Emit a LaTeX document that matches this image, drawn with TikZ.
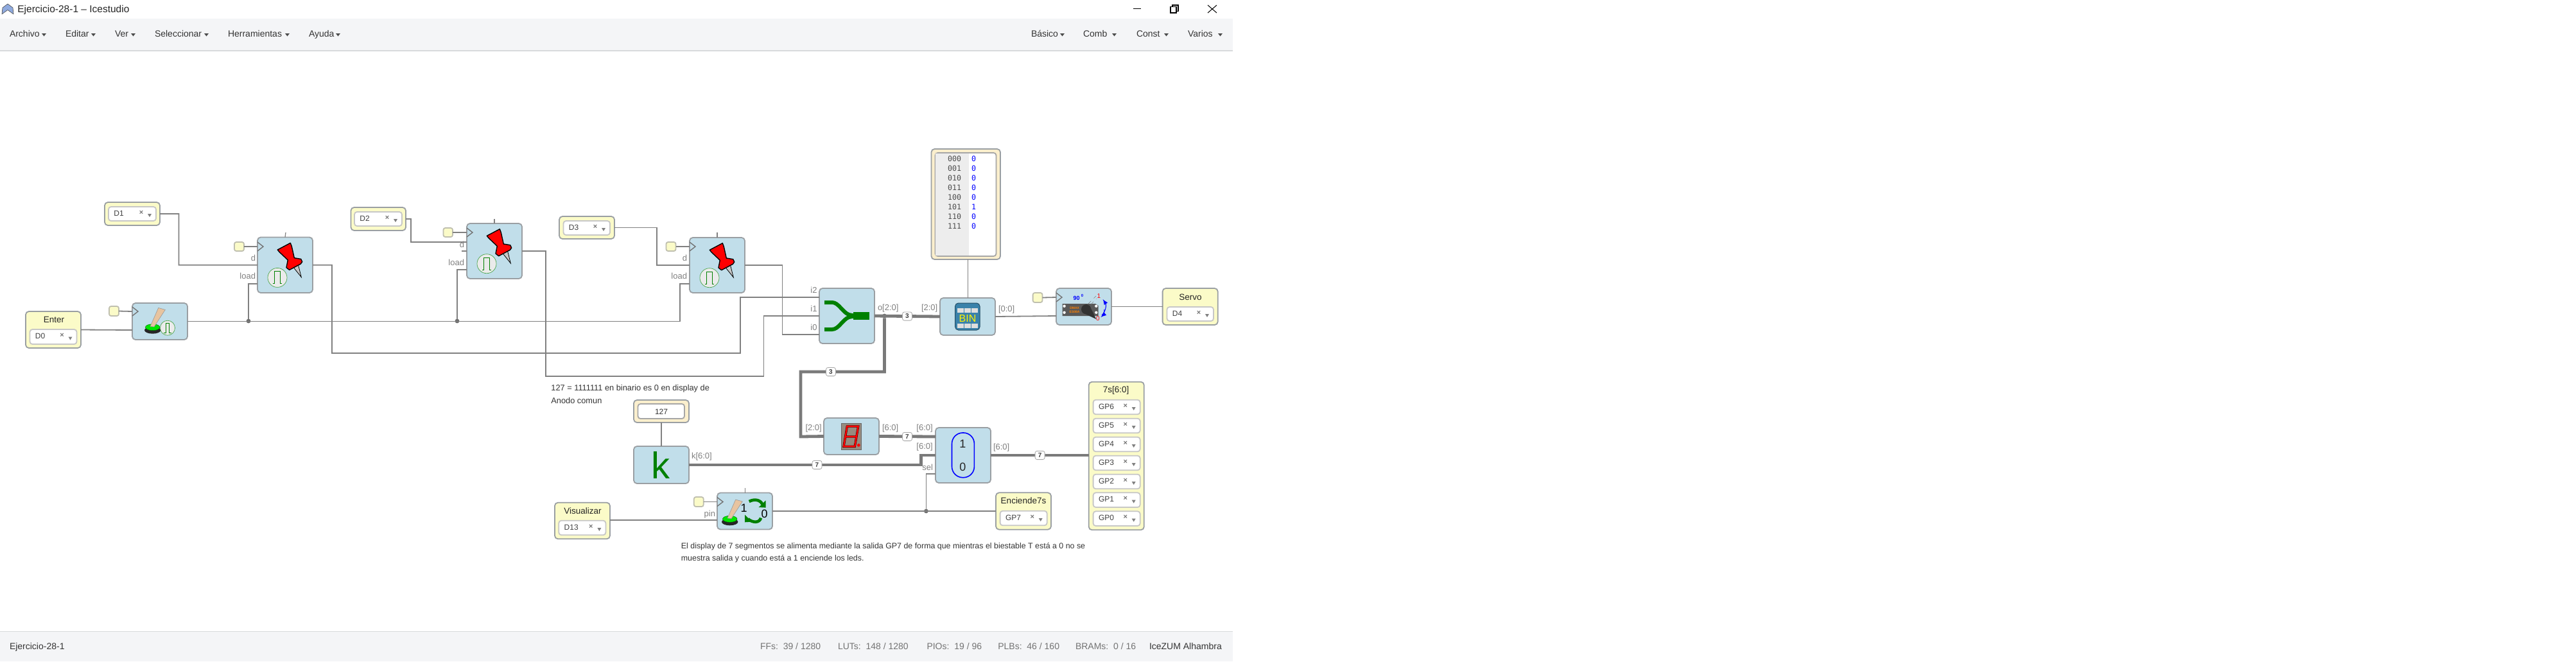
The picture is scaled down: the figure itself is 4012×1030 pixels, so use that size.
\documentclass[tikz,border=0pt]{standalone}
\usepackage{fontspec}
\setmainfont{Liberation Sans}
\setmonofont{DejaVu Sans Mono}
\usetikzlibrary{calc}
\definecolor{blockfill}{HTML}{C1DEEA}
\definecolor{blockline}{HTML}{9A9FA3}
\definecolor{pinfill}{HTML}{FBFBC8}
\definecolor{pinline}{HTML}{A3A38C}
\definecolor{constfill}{HTML}{FBEFCD}
\definecolor{wirecol}{HTML}{808080}
\definecolor{barfill}{HTML}{F4F5F7}
\definecolor{barline}{HTML}{D8DADC}
\definecolor{labelcol}{HTML}{808080}
\definecolor{textcol}{HTML}{333333}
\definecolor{iconblue}{HTML}{3A82AA}
\definecolor{pulsegreen}{HTML}{008000}
\definecolor{fingertan}{HTML}{E8C4A0}
\newcommand\fpx[1]{\fontsize{\fpeval{#1/2}}{\fpeval{#1*0.6}}\selectfont}
\tikzset{
  x=0.5pt,y=-0.5pt,
  wire/.style={draw=wirecol,line width=0.9pt,line join=miter},
  bus/.style={draw=wirecol!95!black,line width=2.4pt,line join=miter},
  boxbase/.style={draw=blockline,line width=0.9pt,rounded corners=2.5pt,inner sep=0pt,outer sep=0pt},
  logicblock/.style={boxbase,fill=blockfill},
  pinblock/.style={boxbase,fill=pinfill},
  constblock/.style={boxbase,fill=constfill},
  clockpin/.style={boxbase,fill=pinfill,draw=pinline!70,rounded corners=1.5pt},
  selectbox/.style={boxbase,fill=white,draw=black!22,rounded corners=2pt},
  inner/.style={boxbase,fill=white,draw=black!35,rounded corners=2pt},
  junction/.style={circle,fill=wirecol!85!black,inner sep=0pt,minimum size=3.4pt,outer sep=0pt},
  buslabel/.style={draw=black!35,fill=white,rounded corners=1.5pt,inner sep=0pt,minimum width=7.5pt,minimum height=6.6pt,font=\fpx{10}\bfseries,text=black!75},
  lbl/.style={inner sep=0pt,outer sep=0pt,text=labelcol,font=\fpx{13},text height=4.6pt,text depth=1.2pt},
  titletext/.style={inner sep=0pt,outer sep=0pt,text=textcol!70!black,font=\fpx{13.5},text height=4.8pt,text depth=1.2pt},
  note/.style={inner sep=0pt,outer sep=0pt,text=textcol,text height=4.6pt,text depth=1.2pt},
  menutext/.style={inner sep=0pt,outer sep=0pt,text=textcol,font=\fpx{14},text height=5pt,text depth=1.4pt},
  stat/.style={inner sep=0pt,outer sep=0pt,text=black!55,font=\fpx{14},text height=5pt,text depth=1.4pt},
  chev/.style={draw=black!55,line width=0.7pt,fill=none},
}
\newcommand\mkbox[6]{\node[#1,minimum width={(#5-#3)*0.5pt},minimum height={(#6-#4)*0.5pt}] (#2) at ({(#3+#5)/2},{(#4+#6)/2}) {};}
\newcommand\mksel[6]{%
  \mkbox{selectbox}{#1}{#2}{#3}{#4}{#5}
  \node[inner sep=0pt,anchor=west,text=black!75,font=\fpx{12},text height=4.3pt,text depth=0pt] (#1t) at ({#2+8},{(#3+#5)/2-1}) {#6};
  \node[inner sep=0pt,text=black!55,font=\fpx{11}\bfseries] (#1x) at ({#4-23},{(#3+#5)/2-2}) {×};
  \fill[black!50] ({#4-13},{(#3+#5)/2}) -- ({#4-7},{(#3+#5)/2}) -- ({#4-10},{(#3+#5)/2+5}) -- cycle;
}
\newcommand\mkcaret[2]{\fill[black!70] (#1,{#2-2}) -- ({#1+7},{#2-2}) -- ({#1+3.5},{#2+2.5}) -- cycle;}
\newcommand\mkchev[2]{\draw[chev] (#1,{#2-7}) -- ({#1+9},#2) -- (#1,{#2+7});}
\newcommand\mkpulse[5]{%
  \draw[draw=pulsegreen!70,fill=black!8,line width=0.35pt] ({#1},{#2}) circle[radius=#3*0.5pt];
  \draw[pulsegreen,line width=0.55pt] ({#1-1.0*#4-2.7},{#2+#5}) -- ({#1-#4},{#2+#5}) -- ({#1-#4},{#2-#5+0.0}) -- ({#1+#4},{#2-#5}) -- ({#1+#4},{#2+#5}) -- ({#1+#4+2.7},{#2+#5});
}
\newcommand\mkpin[2]{\begin{scope}[shift={(#1,#2)}]
  \draw[black,line width=0.4pt,fill=black!22] (56.3,47) -- (63.3,42) -- (68.3,62) -- cycle;
  \draw[black,line width=0.7pt,fill=red,line join=round] (31.3,19.3) -- (51.3,8.7) -- (53.3,14) -- (57.3,32) -- (67.7,33.7) -- (69.7,38) -- (67.3,41.3) -- (49.7,50.7) -- (45,47) -- (47.3,35.3) -- (34,22.7) -- cycle;
  \mkpulse{31}{62.7}{15}{4.2}{9.5}
\end{scope}}
\newcommand\mkfinger[2]{\begin{scope}[shift={(#1,#2)}]
  \fill[black!85] (0,4.5) ellipse[x radius=12.7*0.5pt,y radius=5.5*0.5pt];
  \draw[black!60!green,fill=green!90!black,line width=0.2pt] (0,0) ellipse[x radius=11.3*0.5pt,y radius=5*0.5pt];
  \draw[draw=black!40,fill=fingertan,line width=0.3pt] (9,-30.3) -- (19.6,-27.3) -- (2.3,-0.7) -- (-3.7,-1.3) -- cycle;
\end{scope}}
\begin{document}
\begin{tikzpicture}
\useasboundingbox (0,0) rectangle (4012,1030);
\fill[white] (0,0) rectangle (4012,1030);
\fill[barfill] (0,29) rectangle (1920,78.5);
\draw[barline,line width=0.7pt] (0,79) -- (1920,79);
\fill[barfill] (0,984) rectangle (1920,1030);
\draw[barline,line width=0.7pt] (0,983.5) -- (1920,983.5);
\draw[black!70,fill=cyan!45!blue!45!white,line width=0.3pt,line join=round] (12,6) -- (20,12) -- (21,22) -- (12,15.5) -- (3,22) -- (4,12) -- cycle;
\node[inner sep=0pt,anchor=west,text=black!85,font=\fpx{15.5},text height=5.5pt,text depth=1.5pt] (wintitle) at (27,15) {Ejercicio-28-1 – Icestudio};
\draw[black,line width=0.6pt] (1765,13.7) -- (1777,13.7);
\draw[black,line width=0.6pt] (1823,10.5) rectangle (1832,20);
\draw[black,line width=0.6pt] (1826,10.5) -- (1826,8) -- (1835,8) -- (1835,17.5) -- (1832,17.5);
\draw[black,line width=0.5pt] (1881,8) -- (1895,20) (1895,8) -- (1881,20);
\foreach \nm/\tx/\px/\cx in {ma/Archivo/15/65,mb/Editar/102/142,mc/Ver/179/204,md/Seleccionar/241/318,me/Herramientas/355/444,mf/Ayuda/481/523,mg/Básico/1606/1651,mh/Comb/1687/1732,mi/Const/1770/1813,mj/Varios/1850/1897}{
  \node[menutext,anchor=west] (\nm) at (\px,54) {\tx};
  \mkcaret{\cx}{54}
}
\node[menutext,anchor=west] (projname) at (15,1008) {Ejercicio-28-1};
\node[stat,anchor=west] (st1) at (1184,1007.5) {FFs:\ \ 39 / 1280};
\node[stat,anchor=west] (st2) at (1305,1007.5) {LUTs:\ \ 148 / 1280};
\node[stat,anchor=west] (st3) at (1443.5,1007.5) {PIOs:\ \ 19 / 96};
\node[stat,anchor=west] (st4) at (1554.3,1007.5) {PLBs:\ \ 46 / 160};
\node[stat,anchor=west] (st5) at (1675,1007.5) {BRAMs:\ \ 0 / 16};
\node[menutext,anchor=west] (board) at (1790,1007.5) {IceZUM Alhambra};
\mkbox{pinblock}{d1}{163}{315}{249}{351}\mksel{d1s}{169}{322}{243}{344}{D1}
\mkbox{pinblock}{d2}{546.5}{323}{632}{359}\mksel{d2s}{552}{330}{626}{352}{D2}
\mkbox{pinblock}{d3}{871}{337}{957}{372}\mksel{d3s}{877.5}{344}{950}{366}{D3}
\mkbox{pinblock}{enter}{40}{485}{126}{542}\mksel{d0s}{46.5}{513}{119.5}{536}{D0}
\node[titletext] (entert) at (84,499) {Enter};
\mkbox{pinblock}{servopin}{1810.6}{449}{1896.7}{506}\mksel{d4s}{1817.5}{478}{1890}{500}{D4}
\node[titletext] (servot) at (1854,463.7) {Servo};
\mkbox{pinblock}{vis}{864}{782.7}{950}{839.3}\mksel{d13s}{870.3}{810.7}{943.4}{833.3}{D13}
\node[titletext] (vist) at (907.4,796.7) {Visualizar};
\mkbox{pinblock}{enc}{1551}{767.3}{1637}{824.7}\mksel{gp7s}{1557.6}{795.7}{1630.7}{818.3}{GP7}
\node[titletext] (enct) at (1594,781) {Enciende7s};
\mkbox{pinblock}{seg}{1695.7}{594.7}{1781.8}{825.3}
\node[titletext] (segt) at (1738,608) {7s[6:0]};
\mksel{gp6s}{1702.6}{622.7}{1775.7}{645.3}{GP6}
\mksel{gp5s}{1702.6}{651.7}{1775.7}{674.3}{GP5}
\mksel{gp4s}{1702.6}{680.7}{1775.7}{703.3}{GP4}
\mksel{gp3s}{1702.6}{709.7}{1775.7}{732.3}{GP3}
\mksel{gp2s}{1702.6}{738.7}{1775.7}{761.3}{GP2}
\mksel{gp1s}{1702.6}{767.3}{1775.7}{790}{GP1}
\mksel{gp0s}{1702.6}{796.3}{1775.7}{819}{GP0}
\mkbox{logicblock}{pin1}{401}{369.5}{487}{456}
\mkbox{logicblock}{pin2}{727}{348}{813}{434}
\mkbox{logicblock}{pin3}{1074}{370}{1160}{456}
\mkbox{logicblock}{btn}{206}{472}{292}{529}
\mkbox{logicblock}{join}{1276}{449}{1362}{535}
\mkbox{logicblock}{bin}{1464}{464}{1550}{522}
\mkbox{logicblock}{servo}{1645}{449}{1731}{506}
\mkbox{logicblock}{disp}{1283}{651}{1369}{708}
\mkbox{logicblock}{mux}{1457}{666}{1543}{752}
\mkbox{logicblock}{kblock}{987}{695}{1073}{753}
\mkbox{logicblock}{toggle}{1117}{767.5}{1203}{824.5}
\mkbox{constblock}{kconst}{987}{623}{1073}{658}
\mkbox{inner}{kval}{993.5}{629}{1066}{652}
\node[inner sep=0pt,text=black!80,font=\fpx{12}] (kvalt) at (1030,641) {127};
\mkbox{constblock}{mem}{1450.5}{232}{1558}{404}
\mkbox{inner}{memin}{1456.6}{238}{1551.5}{399}
\fill[black!7] (1457.4,238.8) rectangle (1508.7,398.2);
\foreach \nm/\a/\v/\yy in {r0/000/0/247,r1/001/0/262,r2/010/0/277,r3/011/0/292,r4/100/0/307,r5/101/1/322,r6/110/0/337,r7/111/0/352}{
  \node[inner sep=0pt,text=black!70,font=\ttfamily\fpx{11.6}] (\nm a) at (1486.5,\yy) {\a};
  \node[inner sep=0pt,text=blue,font=\ttfamily\fpx{11.6}] (\nm v) at (1516.7,\yy) {\v};
}
\mkbox{clockpin}{ck1}{365}{377}{380}{391}
\mkbox{clockpin}{ck2}{690.5}{355}{705}{369}
\mkbox{clockpin}{ck3}{1037.5}{377}{1052.5}{391}
\mkbox{clockpin}{ck0}{170}{477}{185}{492}
\mkbox{clockpin}{ck4}{1608.6}{456}{1623.5}{471}
\mkbox{clockpin}{ck5}{1080.8}{774}{1095.7}{789}
\coordinate (p1clk) at (401,384);\coordinate (p1load) at (401,442);
\coordinate (p2clk) at (727,362);\coordinate (p2d) at (727,377);\coordinate (p2load) at (727,420);\coordinate (p2stub) at (719,391);
\coordinate (p3clk) at (1074,384);\coordinate (p3load) at (1074,442);
\coordinate (bclk) at (206,485);\coordinate (bin0) at (206,514);
\coordinate (i2) at (1276,463);\coordinate (i0) at (1276,521);
\coordinate (sclk) at (1645,463);\coordinate (sin) at (1645,492);
\coordinate (m1) at (1457,680);\coordinate (m0) at (1457,709);\coordinate (msel) at (1457,738);
\coordinate (tclk) at (1117,781.5);\coordinate (tin) at (1117,810);
\coordinate (memout) at (1507.5,404);\coordinate (binpar) at (1507.5,464);
\coordinate (segin) at (1696,709);
\coordinate (visout) at (950,810);
\coordinate (s1) at (445,362);\coordinate (s2) at (770,341);\coordinate (s3) at (1117,362);\coordinate (s4) at (1160.8,760);\coordinate (s4b) at (1160.8,767.5);
\node[junction] (j1) at (387,500) {};
\node[junction] (j2) at (712,500) {};
\node[junction] (j3) at (1377.5,492) {};
\node[junction] (j4) at (1442.4,796) {};
\draw[wire] (d1.east) -- (278.5,333) -- (278.5,412.7) -- (pin1.west);
\draw[wire] (d2.east) -- (640,341) -- (640,377) -- (p2d);
\draw[wire] (p2stub) -- (pin2.west);
\draw[wire] (d3.east) -- (1023,354.5) -- (1023,413) -- (pin3.west);
\draw[wire] (enter.east) -- (bin0);
\draw[wire] (btn.east) -- (1059,500.5) -- (1059,442) -- (p3load);
\draw[wire] (j1) -- (387,442) -- (p1load);
\draw[wire] (j2) -- (712,420) -- (p2load);
\draw[wire] (pin1.east) -- (517,412.7) -- (517,550) -- (1153,550) -- (1153,463) -- (i2);
\draw[wire] (pin2.east) -- (850,391) -- (850,586) -- (1189.5,586) -- (1189.5,492) -- (join.west);
\draw[wire] (pin3.east) -- (1218.5,413) -- (1218.5,521) -- (i0);
\draw[wire] (ck1.east) -- (p1clk);\draw[wire] (ck2.east) -- (p2clk);\draw[wire] (ck3.east) -- (p3clk);
\draw[wire] (ck0.east) -- (bclk);\draw[wire] (ck4.east) -- (sclk);\draw[wire] (ck5.east) -- (tclk);
\draw[wire,line width=0.6pt] (pin1.north) -- (s1);\draw[wire,line width=0.6pt] (pin2.north) -- (s2);\draw[wire,line width=0.6pt] (pin3.north) -- (s3);\draw[wire,line width=0.6pt] (s4b) -- (s4);
\draw[wire] (memout) -- (binpar);
\draw[wire] (kconst.south) -- (kblock.north);
\draw[wire] (bin.east) -- (sin);
\draw[wire] (servo.east) -- (servopin.west);
\draw[wire] (visout) -- (tin);
\draw[wire] (toggle.east) -- (enc.west);
\draw[wire] (j4) -- (1442.4,738) -- (msel);
\draw[bus] (join.east) -- (bin.west);
\draw[bus] (j3) -- (1377.5,579) -- (1247,579) -- (1247,680) -- (disp.west);
\draw[bus] (disp.east) -- (m1);
\draw[bus] (kblock.east) -- (1434.5,724) -- (1434.5,709) -- (m0);
\draw[bus] (mux.east) -- (segin);
\node[buslabel] (b1) at (1413,492.5) {3};
\node[buslabel] (b2) at (1294,579) {3};
\node[buslabel] (b3) at (1413,680) {7};
\node[buslabel] (b4) at (1272.5,724) {7};
\node[buslabel] (b5) at (1619.6,709) {7};
\node[lbl,anchor=east] (l1) at (398,403) {d};\node[lbl,anchor=east] (l2) at (398,431) {load};
\node[lbl,anchor=east] (l3) at (723,382) {d};\node[lbl,anchor=east] (l4) at (723,410) {load};
\node[lbl,anchor=east] (l5) at (1070,403) {d};\node[lbl,anchor=east] (l6) at (1070,431) {load};
\node[lbl,anchor=east] (l7) at (1272.5,453) {i2};\node[lbl,anchor=east] (l8) at (1272.5,482) {i1};\node[lbl,anchor=east] (l9) at (1272.5,511) {i0};
\node[lbl,anchor=west] (l10) at (1367,480) {o[2:0]};
\node[lbl,anchor=west] (l11) at (1435,480) {[2:0]};
\node[lbl,anchor=west] (l12) at (1555,482) {[0:0]};
\node[lbl,anchor=west] (l13) at (1254.5,667) {[2:0]};
\node[lbl,anchor=west] (l14) at (1374,667) {[6:0]};
\node[lbl,anchor=west] (l15) at (1427.4,667) {[6:0]};
\node[lbl,anchor=west] (l16) at (1427.4,696) {[6:0]};
\node[lbl,anchor=east] (l17) at (1453,728.7) {sel};
\node[lbl,anchor=west] (l18) at (1547,696.7) {[6:0]};
\node[lbl,anchor=west] (l19) at (1077,711) {k[6:0]};
\node[lbl,anchor=east] (l20) at (1114,800.7) {pin};
\mkchev{401}{384}\mkchev{727}{362}\mkchev{1074}{384}\mkchev{206}{485}\mkchev{1645}{463}\mkchev{1117}{781.5}
\node[note,font=\fpx{12.8},anchor=west] (n1) at (858.4,605) {127 = 1111111 en binario es 0 en display de};
\node[note,font=\fpx{12.8},anchor=west] (n2) at (858.4,624.7) {Anodo comun};
\node[note,font=\fpx{12.4},anchor=west] (n3) at (1060.9,850.7) {El display de 7 segmentos se alimenta mediante la salida GP7 de forma que mientras el biestable T está a 0 no se};
\node[note,font=\fpx{12.4},anchor=west] (n4) at (1060.9,869.7) {muestra salida y cuando está a 1 enciende los leds.};
\mkpin{401}{369.7}\mkpin{727}{348}\mkpin{1074}{370}
\begin{scope}[shift={(206,471.7)}]
  \mkfinger{31.7}{38}
  \mkpulse{55}{39}{11.5}{2.9}{7.4}
\end{scope}
\begin{scope}[shift={(1117,767.3)}]
  \mkfinger{19.7}{41}
  \node[inner sep=0pt,font=\fpx{18}] (tg1) at (41.7,23.5) {1};
  \node[inner sep=0pt,font=\fpx{18}] (tg0) at (73.7,32.7) {0};
  \draw[pulsegreen,line width=2.3pt] (49.7,13.7) .. controls (58,9.3) and (67,11) .. (70.3,18);
  \fill[pulsegreen] (75.7,12) -- (75.7,23.3) -- (64.7,22.7) -- cycle;
  \draw[pulsegreen,line width=2.3pt] (68,39.3) .. controls (66.3,46.7) and (56.3,47.7) .. (48,41);
  \fill[pulsegreen] (43,34.3) -- (43,46) -- (53.7,45.3) -- cycle;
\end{scope}
\fill[pulsegreen] (1329,486) rectangle (1354,498);
\draw[pulsegreen,line width=3pt] (1284,471) -- (1296,471) .. controls (1306,471) and (1312,486) .. (1322,490) -- (1332,492);
\draw[pulsegreen,line width=3pt] (1284,513) -- (1296,513) .. controls (1306,513) and (1312,498) .. (1322,494) -- (1332,492);
\draw[draw=iconblue!60!black,fill=iconblue,line width=0.5pt,rounded corners=2.5pt] (1487.6,472) rectangle (1526,514);
\foreach \yy in {480,504}{\foreach \xx in {1491,1502,1513.3}{\fill[black!13] (\xx,\yy) rectangle ({\xx+9.7},{\yy+6.7});}}
\node[inner sep=0pt,text=yellow,font=\fpx{16}] (bint) at (1507,496) {BIN};
\node[inner sep=0pt,text=pulsegreen,font=\fpx{58}] (kt) at (1029,724) {k};
\draw[blue,line width=0.8pt,rounded corners=8.5pt] (1482.5,674) rectangle (1517.4,743.7);
\node[inner sep=0pt,font=\fpx{18},text=black!85] (mx1) at (1499.4,691.7) {1};
\node[inner sep=0pt,font=\fpx{18},text=black!85] (mx0) at (1499.4,727) {0};
\fill[brown!35!black!55!white] (1310.3,659.3) rectangle (1341.3,700.7);
\draw[black!60,line width=0.3pt] (1310.3,659.3) rectangle (1341.3,700.7);
\draw[black!70!red,line width=1.7pt,line join=miter] (1319.3,664) -- (1336.7,664) -- (1331.3,695.3) -- (1314,695.3) -- cycle (1316.7,680) -- (1333.3,680);
\draw[red,line width=1.1pt,line join=miter] (1319.3,664) -- (1336.7,664) -- (1331.3,695.3) -- (1314,695.3) -- cycle (1316.7,680) -- (1333.3,680);
\fill[red] (1337.3,693.3) circle[radius=1.2pt];
\fill[black!65] (1654.5,473) -- (1706,473) -- (1710.7,476) -- (1710.7,492) -- (1654.5,492) -- cycle;
\foreach \xx/\yy in {1657.6/476.7,1657.6/486.7,1707.3/476.7,1707.3/486.7}{\fill[white] (\xx,\yy) circle[radius=1.1pt];}
\node[inner sep=0pt,text=orange,font=\fpx{5}\bfseries] (sv1) at (1673.6,479.3) {DMAX};
\node[inner sep=0pt,text=orange,font=\fpx{5}\bfseries] (sv2) at (1673.6,485.3) {ES08A};
\draw[black!50,line width=0.25pt,dashed] (1695,473) -- (1707,461) (1699,474) -- (1708,465);
\fill[black!80] (1691.6,481.7) circle[radius=3.8pt];
\fill[black!80] (1686,487) -- (1697,476) -- (1707.3,497) -- cycle;
\draw[blue,line width=0.5pt,-latex] (1716,491) .. controls (1723,484) and (1723,474) .. (1717.6,466);
\draw[blue,line width=0.5pt,-latex] (1720,482) .. controls (1720,487) and (1718,491) .. (1714.5,494);
\node[inner sep=0pt,text=blue,font=\fpx{9}\bfseries] (sv90) at (1676.5,464) {90};
\node[inner sep=0pt,text=blue,font=\fpx{6}\bfseries] (svdeg) at (1685.5,460.7) {0};
\node[inner sep=0pt,text=red,font=\fpx{10}] (sv1r) at (1711.5,460.7) {1};
\node[inner sep=0pt,text=red,font=\fpx{10}] (sv0r) at (1710,495.7) {0};
\end{tikzpicture}
\end{document}
